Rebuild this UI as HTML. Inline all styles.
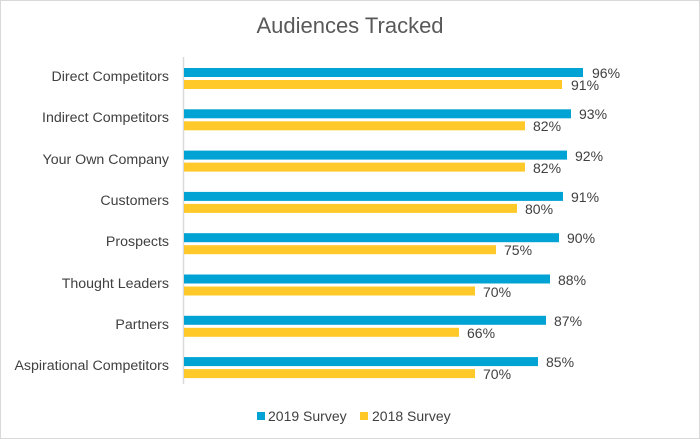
<!DOCTYPE html>
<html><head><style>
body{margin:0;background:#fff;}
svg{display:block;font-family:"Liberation Sans",sans-serif;}
</style></head><body>
<svg width="700" height="439" xmlns="http://www.w3.org/2000/svg">
<rect x="0.5" y="0.5" width="699" height="438" fill="#fff" stroke="#d9d9d9"/>
<text x="350" y="33" text-anchor="middle" font-size="22" fill="#595959">Audiences Tracked</text>
<line x1="183.5" y1="57" x2="183.5" y2="384" stroke="#d9d9d9" stroke-width="1.5"/>
<g font-size="14.2" fill="#404040" text-anchor="end">
<text x="169" y="81">Direct Competitors</text>
<text x="169" y="122">Indirect Competitors</text>
<text x="169" y="164">Your Own Company</text>
<text x="169" y="205">Customers</text>
<text x="169" y="246">Prospects</text>
<text x="169" y="288">Thought Leaders</text>
<text x="169" y="329">Partners</text>
<text x="169" y="370">Aspirational Competitors</text>
</g>
<g>
<rect x="184" y="68" width="399" height="9" fill="#00a3d4"/><rect x="184" y="80" width="378" height="9" fill="#ffc929"/>
<rect x="184" y="109.3" width="387" height="9" fill="#00a3d4"/><rect x="184" y="121.3" width="341" height="9" fill="#ffc929"/>
<rect x="184" y="150.6" width="383" height="9" fill="#00a3d4"/><rect x="184" y="162.6" width="341" height="9" fill="#ffc929"/>
<rect x="184" y="191.9" width="379" height="9" fill="#00a3d4"/><rect x="184" y="203.9" width="333" height="9" fill="#ffc929"/>
<rect x="184" y="233.2" width="375" height="9" fill="#00a3d4"/><rect x="184" y="245.2" width="312" height="9" fill="#ffc929"/>
<rect x="184" y="274.5" width="366" height="9" fill="#00a3d4"/><rect x="184" y="286.5" width="291" height="9" fill="#ffc929"/>
<rect x="184" y="315.8" width="362" height="9" fill="#00a3d4"/><rect x="184" y="327.8" width="275" height="9" fill="#ffc929"/>
<rect x="184" y="357.1" width="354" height="9" fill="#00a3d4"/><rect x="184" y="369.1" width="291" height="9" fill="#ffc929"/>
</g>
<g font-size="14" fill="#404040">
<text x="592" y="78">96%</text><text x="571" y="90">91%</text>
<text x="579" y="119">93%</text><text x="533" y="131">82%</text>
<text x="575" y="161">92%</text><text x="533" y="173">82%</text>
<text x="571" y="202">91%</text><text x="525" y="214">80%</text>
<text x="567" y="243">90%</text><text x="504" y="255">75%</text>
<text x="558" y="285">88%</text><text x="483" y="297">70%</text>
<text x="554" y="326">87%</text><text x="467" y="338">66%</text>
<text x="546" y="367">85%</text><text x="483" y="379">70%</text>
</g>
<g font-size="14" fill="#404040">
<rect x="257" y="412" width="8" height="8" fill="#00a3d4"/>
<text x="268" y="421">2019 Survey</text>
<rect x="360" y="412" width="8" height="8" fill="#ffc929"/>
<text x="372" y="421">2018 Survey</text>
</g>
</svg>
</body></html>
